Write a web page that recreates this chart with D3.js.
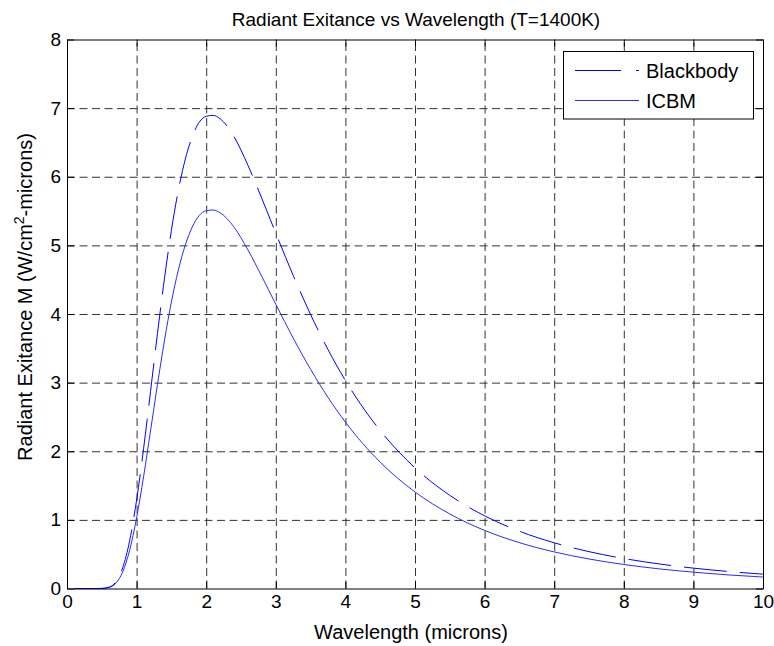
<!DOCTYPE html>
<html>
<head>
<meta charset="utf-8">
<script src="https://cdn.jsdelivr.net/npm/d3@7"></script>
<style>
  html, body { margin: 0; padding: 0; background: #fff; }
  svg { display: block; }
  text { font-family: Arial, "Liberation Sans", Helvetica, sans-serif; fill: #000; }
</style>
</head>
<body>
<svg id="chart" width="774" height="646"></svg>
<script>
// Wavelength samples (microns)
const wavelength = [0.1, 0.2, 0.3, 0.4, 0.5, 0.6, 0.7, 0.8, 0.9, 1.0,
  1.1, 1.2, 1.3, 1.4, 1.5, 1.6, 1.7, 1.8, 1.9, 2.0,
  2.1, 2.2, 2.4, 2.6, 2.8, 3.0, 3.25, 3.5, 3.75, 4.0,
  4.5, 5.0, 5.5, 6.0, 6.5, 7.0, 7.5, 8.0, 8.5, 9.0, 9.5, 10.0];

// Radiant exitance, W/cm^2-micron
const blackbody = [0, 0, 0, 0, 0.001, 0.018, 0.094, 0.301, 0.696, 1.288,
  2.035, 2.870, 3.717, 4.515, 5.219, 5.803, 6.257, 6.585, 6.795, 6.880,
  6.895, 6.845, 6.583, 6.166, 5.682, 5.177, 4.562, 3.992, 3.481, 3.031,
  2.301, 1.758, 1.357, 1.059, 0.835, 0.666, 0.537, 0.437, 0.359, 0.297, 0.248, 0.209];

const icbm = [0, 0, 0, 0, 0.001, 0.014, 0.075, 0.241, 0.557, 1.030,
  1.628, 2.296, 2.974, 3.612, 4.175, 4.642, 5.006, 5.268, 5.436, 5.505,
  5.515, 5.475, 5.266, 4.933, 4.545, 4.141, 3.649, 3.194, 2.785, 2.425,
  1.841, 1.407, 1.086, 0.847, 0.668, 0.533, 0.430, 0.350, 0.287, 0.238, 0.198, 0.167];

const xTicks = [0, 1, 2, 3, 4, 5, 6, 7, 8, 9, 10];
const yTicks = [0, 1, 2, 3, 4, 5, 6, 7, 8];

const seriesNames = ["Blackbody", "ICBM"];
const titleText = "Radiant Exitance vs Wavelength (T=1400K)";
const xLabel = "Wavelength (microns)";

const svg = d3.select("#chart");
const m = { left: 67, top: 39.5, right: 763, bottom: 588.5 };
const W = m.right - m.left, H = m.bottom - m.top;

const x = d3.scaleLinear().domain([0, 10]).range([0, W]);
const y = d3.scaleLinear().domain([0, 8]).range([H, 0]);

const g = svg.append("g").attr("transform", `translate(${m.left},${m.top})`);

// Dashed grid
const gridStyle = sel => {
  sel.select(".domain").remove();
  sel.selectAll(".tick line")
    .attr("stroke", "#333").attr("stroke-width", 1).attr("stroke-dasharray", "8,4.5");
  sel.selectAll(".tick text").remove();
};
g.append("g").attr("transform", `translate(0,${H})`)
  .call(d3.axisBottom(x).tickValues(xTicks.slice(1, -1)).tickSize(-H).tickFormat(""))
  .call(gridStyle);
g.append("g")
  .call(d3.axisLeft(y).tickValues(yTicks.slice(1, -1)).tickSize(-W).tickFormat(""))
  .call(gridStyle);

// Curves
const line = (vals) => d3.line()
  .x((d, i) => x(wavelength[i]))
  .y((d) => y(d))
  .curve(d3.curveMonotoneX)(vals);

g.append("path").attr("d", line(icbm))
  .attr("fill", "none").attr("stroke", "#2a2aff").attr("stroke-width", 1);
g.append("path").attr("d", line(blackbody))
  .attr("fill", "none").attr("stroke", "#0000ff").attr("stroke-width", 1)
  .attr("stroke-dasharray", "43,13");

// Axes with inward ticks on all sides
const axisStyle = (sel) => {
  sel.select(".domain").attr("stroke", "#000");
  sel.selectAll(".tick line").attr("stroke", "#000");
  sel.selectAll(".tick text").style("font-size", "19px")
    .style("font-family", "Arial, 'Liberation Sans', sans-serif").attr("fill", "#000");
};
g.append("g").attr("transform", `translate(0,${H})`)
  .call(d3.axisBottom(x).tickValues(xTicks).tickSize(-7).tickSizeOuter(0).tickPadding(6).tickFormat(d3.format("d")))
  .call(axisStyle);
g.append("g")
  .call(d3.axisTop(x).tickValues(xTicks).tickSize(-7).tickSizeOuter(0).tickFormat(""))
  .call(axisStyle);
g.append("g")
  .call(d3.axisLeft(y).tickValues(yTicks).tickSize(-7).tickSizeOuter(0).tickPadding(6).tickFormat(d3.format("d")))
  .call(axisStyle);
g.append("g").attr("transform", `translate(${W},0)`)
  .call(d3.axisRight(y).tickValues(yTicks).tickSize(-7).tickSizeOuter(0).tickFormat(""))
  .call(axisStyle);

// Title and axis labels
svg.append("text").attr("x", 416).attr("y", 26).attr("text-anchor", "middle")
  .style("font-size", "19px").text(titleText);
svg.append("text").attr("x", 411).attr("y", 639).attr("text-anchor", "middle")
  .style("font-size", "20px").text(xLabel);
const yl = svg.append("text").attr("transform", "translate(32,297) rotate(-90)")
  .attr("text-anchor", "middle").style("font-size", "20px");
yl.append("tspan").text("Radiant Exitance M (W/cm");
yl.append("tspan").attr("dy", -8).style("font-size", "14px").text("2");
yl.append("tspan").attr("dy", 8).text("-microns)");

// Legend
const lg = svg.append("g");
lg.append("rect").attr("x", 563.5).attr("y", 51.5).attr("width", 190).attr("height", 67.5)
  .attr("fill", "#fff").attr("stroke", "#000").attr("stroke-width", 1);
const legendRows = [
  { name: seriesNames[0], color: "#0000ff", dash: "46,15", y: 70.5 },
  { name: seriesNames[1], color: "#2a2aff", dash: null, y: 100.5 }
];
legendRows.forEach(r => {
  lg.append("line").attr("x1", 575).attr("x2", 639).attr("y1", r.y).attr("y2", r.y)
    .attr("stroke", r.color).attr("stroke-width", 1)
    .attr("stroke-dasharray", r.dash);
  lg.append("text").attr("x", 646).attr("y", r.y + 7).style("font-size", "20px").text(r.name);
});
</script>
</body>
</html>
